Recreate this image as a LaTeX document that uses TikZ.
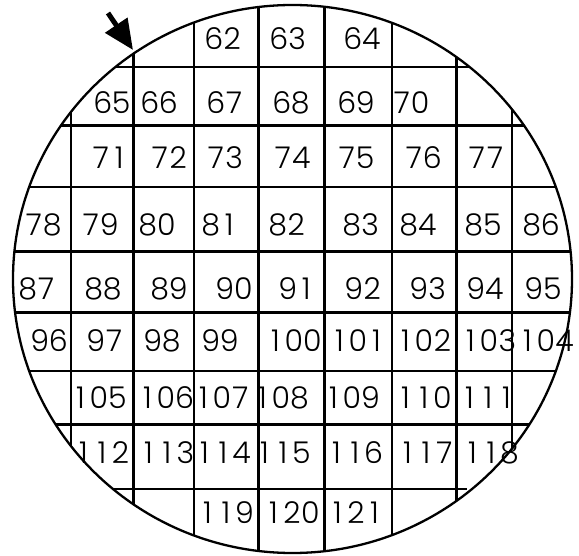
\documentclass[tikz,border=0pt]{standalone}
\usepackage{fontspec}
\newfontfamily\dief{Poppins Light}
\usepackage{tikz}
\usetikzlibrary{arrows.meta}
% every digit as wide as a zero
\def\tabnum#1{\expandafter\tabdig#1\relax}
\def\tabdig#1{\ifx#1\relax\else\hbox to \fontcharwd\font`0{\hss#1\hss}\expandafter\tabdig\fi}
\tikzset{
  gthick/.style={line width=3pt},
  gthin/.style={line width=2pt},
  num/.style={font=\dief\fontsize{30}{30}\selectfont, inner sep=0pt},
  arr/.style={-{Triangle[length=30pt,width=26pt]}, line width=5pt}
}

\begin{document}
\begin{tikzpicture}[x=1pt,y=-1pt]
  \useasboundingbox (0,0) rectangle (579,556);
  \begin{scope}
    \clip (292.5,279) ellipse [x radius=279.5, y radius=274];
    \foreach \x in {133,258,324,456} \draw[gthick] (\x,0) -- (\x,556);
    \foreach \x in {71,194,392,512} \draw[gthin] (\x,0) -- (\x,556);
    \foreach \y in {126,252,313,424} \draw[gthick] (0,\y) -- (579,\y);
    \foreach \y in {67,187,371} \draw[gthin] (0,\y) -- (579,\y);
    \draw[gthin] (0,489) -- (467,489);
  \end{scope}
  \draw[line width=2.3pt] (292.5,279) ellipse [x radius=279.5, y radius=274];
  % marker on the flat
  \coordinate (tail) at (108,13);
  \coordinate (tip) at (133,50);
  \draw[arr] (tail) -- (tip);
  % die numbers, row by row
  \foreach \x/\n in {223/62,288/63,362/64} \node[num] (c\n) at (\x,39) {\tabnum\n};
  \foreach \x/\n in {112/65,159/66,225/67,291/68,356/69,411/70} \node[num] (c\n) at (\x,103) {\tabnum\n};
  \foreach \x/\n in {110/71,169/72,225/73,292/74,356/75,423/76,486/77} \node[num] (c\n) at (\x,158) {\tabnum\n};
  \foreach \x/\n in {43/78,100/79,157/80,220/81,287/82,361/83,418/84,483/85,541/86} \node[num] (c\n) at (\x,225) {\tabnum\n};
  \foreach \x/\n in {37/87,103/88,169/89,234/90,297/91,363/92,428/93,485/94,543/95} \node[num] (c\n) at (\x,289) {\tabnum\n};
  \foreach \x/\n in {49/96,105/97,162/98,220/99,294/100,358/101,424/102,489/103,546/104} \node[num] (c\n) at (\x,341) {\tabnum\n};
  \foreach \x/\n in {99/105,166/106,222/107,281/108,352/109,424/110,488/111} \node[num] (c\n) at (\x,398) {\tabnum\n};
  \foreach \x/\n in {102/112,167/113,223/114,283/115,355/116,426/117,491/118} \node[num] (c\n) at (\x,453) {\tabnum\n};
  \foreach \x/\n in {226/119,292/120,356/121} \node[num] (c\n) at (\x,513) {\tabnum\n};
\end{tikzpicture}
\end{document}
